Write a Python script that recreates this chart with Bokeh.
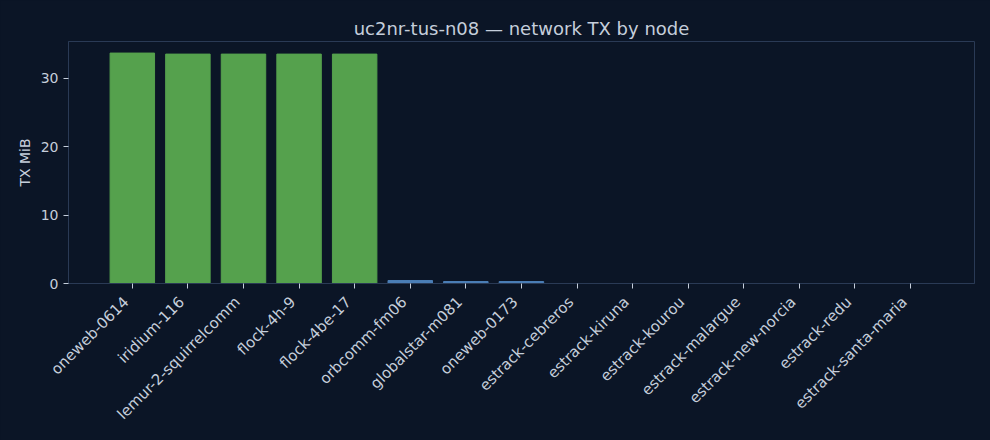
import math
from bokeh.plotting import figure
from bokeh.models import ColumnDataSource, Range1d, LinearAxis, FixedTicker
from bokeh.embed import file_html
from bokeh.resources import INLINE

nodes = ["oneweb-0614", "iridium-116", "lemur-2-squirrelcomm", "flock-4h-9",
         "flock-4be-17", "orbcomm-fm06", "globalstar-m081", "oneweb-0173",
         "estrack-cebreros", "estrack-kiruna", "estrack-kourou",
         "estrack-malargue", "estrack-new-norcia", "estrack-redu",
         "estrack-santa-maria"]
tx_mib = [33.66, 33.51, 33.51, 33.51, 33.51, 0.44, 0.29, 0.29,
          0, 0, 0, 0, 0, 0, 0]
groups = ["high"] * 5 + ["low"] * 3 + ["none"] * 7
y_ticks = [0, 10, 20, 30]

BG = "#0b1526"
TXT = "#c5cedb"
GRID = "#2a3a55"
palette = {"high": "#55a14d", "low": "#4a7db5", "none": "#4a7db5"}

idx = list(range(len(nodes)))
src = ColumnDataSource(dict(x=idx, node=nodes, tx=tx_mib,
                            color=[palette[g] for g in groups]))

X0, X1 = -1.148, len(nodes) - 1 + 1.151
SHIFT = 0.11  # matplotlib-style right-aligned rotated labels

p = figure(width=990, height=440, output_backend="svg", toolbar_location=None,
           x_range=Range1d(X0, X1), y_range=Range1d(0, 35.35),
           title="uc2nr-tus-n08 \u2014 network TX by node",
           x_axis_type=None,
           min_border_left=68, min_border_right=16, min_border_top=41,
           min_border_bottom=157)
p.extra_x_ranges = {"lab": Range1d(X0 + SHIFT, X1 + SHIFT)}

p.vbar(x="x", top="tx", width=0.8, color="color", source=src)

p.background_fill_color = BG
p.border_fill_color = BG
p.outline_line_color = GRID
p.outline_line_width = 1
p.grid.visible = False

p.title.align = "center"
p.title.text_color = TXT
p.title.text_font = "DejaVu Sans"
p.title.text_font_size = "18px"
p.title.text_font_style = "normal"
p.title.offset = 0
p.title.standoff = 6

# tick marks axis
xticks_ax = LinearAxis(ticker=FixedTicker(ticks=idx),
                       major_label_overrides={i: "" for i in idx},
                       major_label_standoff=0)
# labels axis (shifted so that label ends sit left of the ticks)
xlab_ax = LinearAxis(x_range_name="lab", ticker=FixedTicker(ticks=idx),
                     major_label_overrides={i: n for i, n in zip(idx, nodes)},
                     major_label_standoff=11)
p.add_layout(xticks_ax, "below")
p.add_layout(xlab_ax, "below")

for ax in (xticks_ax, xlab_ax, p.yaxis[0]):
    ax.axis_line_color = GRID
    ax.major_tick_line_color = TXT
    ax.minor_tick_line_color = None
    ax.major_tick_out = 5
    ax.major_tick_in = 0
    ax.major_label_text_color = TXT
    ax.major_label_text_font = "DejaVu Sans"
    ax.major_label_text_font_size = "14px"
    ax.axis_label_text_color = TXT
    ax.axis_label_text_font = "DejaVu Sans"
    ax.axis_label_text_font_size = "14px"
    ax.axis_label_text_font_style = "normal"

xlab_ax.axis_line_color = None
xlab_ax.major_tick_line_color = None
xlab_ax.major_tick_out = 0
xlab_ax.major_label_text_font_size = "15px"
xlab_ax.major_label_orientation = math.pi / 4

p.yaxis.axis_label = "TX MiB"
p.yaxis.ticker = y_ticks

html = file_html(p, INLINE)
html = html.replace("<head>", "<head><style>body{background:#0b1526;}</style>", 1)
open("out.html", "w").write(html)
